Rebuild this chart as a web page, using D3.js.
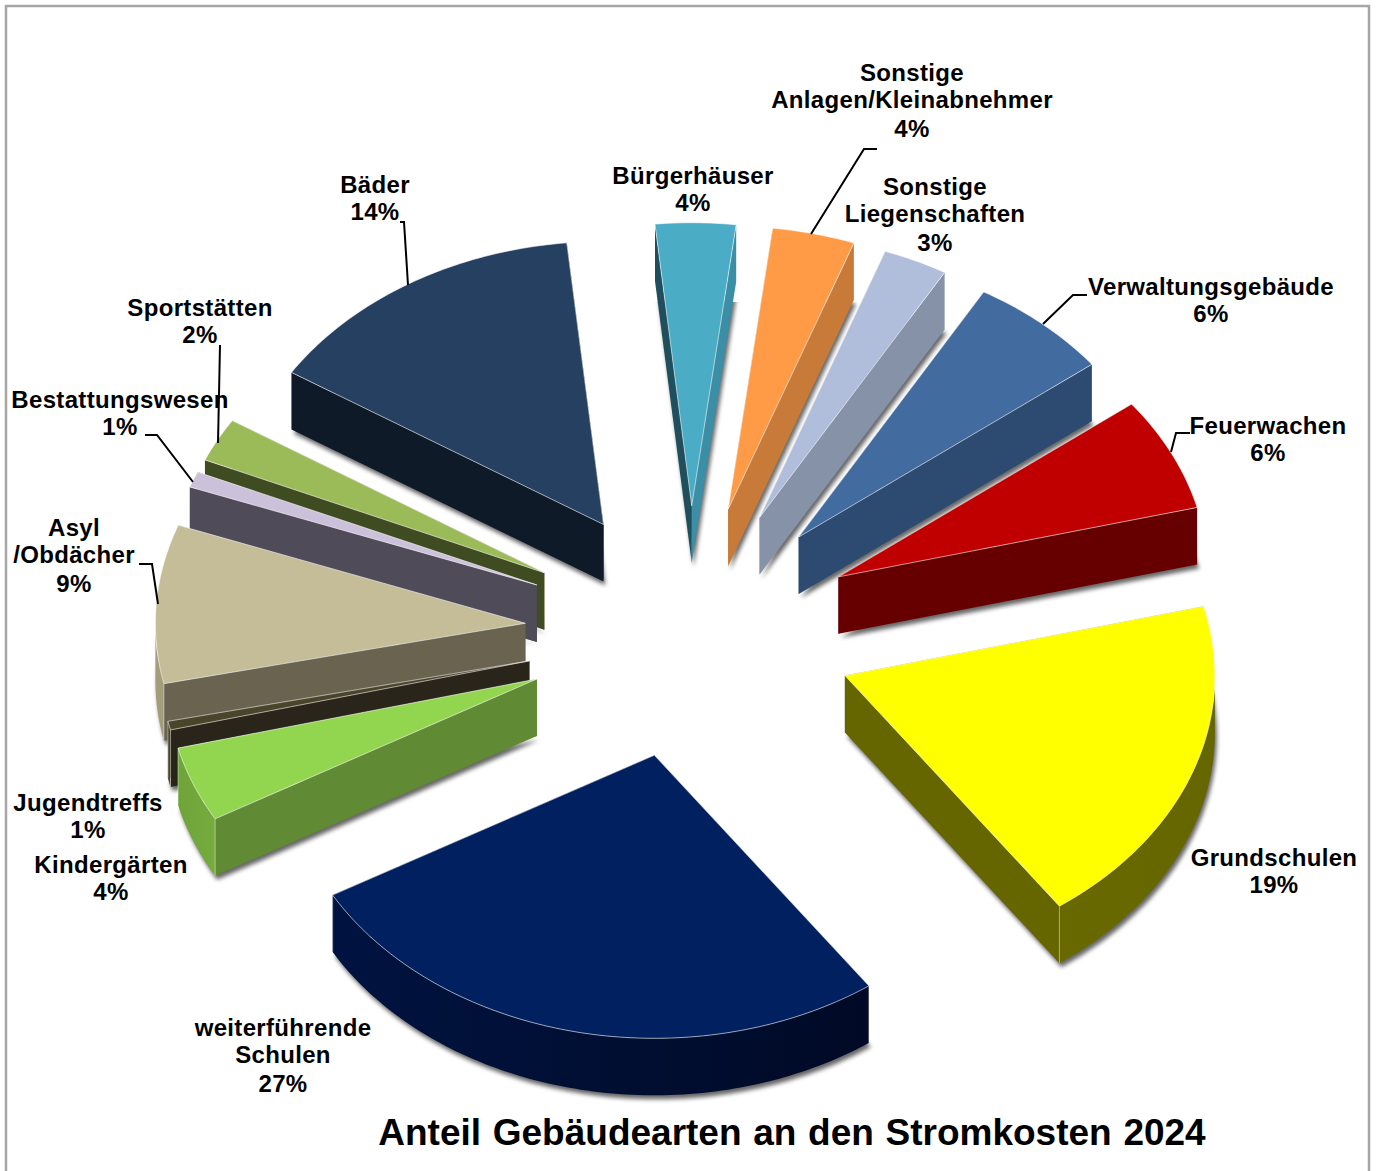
<!DOCTYPE html>
<html lang="de">
<head>
<meta charset="utf-8">
<style>
html,body{margin:0;padding:0;background:#fff;overflow:hidden}
svg{display:block}
text{font-family:"Liberation Sans",Arial,sans-serif;font-weight:700;fill:#000}
</style>
<script src="https://cdn.jsdelivr.net/npm/d3@7"></script>
</head>
<body>
<svg id="chart" width="1376" height="1171"></svg>
<script>
// ---- data (clockwise from the top) ----
const categories = [
  ["Bürgerhäuser"],
  ["Sonstige","Anlagen/Kleinabnehmer"],
  ["Sonstige","Liegenschaften"],
  ["Verwaltungsgebäude"],
  ["Feuerwachen"],
  ["Grundschulen"],
  ["weiterführende","Schulen"],
  ["Kindergärten"],
  ["Jugendtreffs"],
  ["Asyl","/Obdächer"],
  ["Bestattungswesen"],
  ["Sportstätten"],
  ["Bäder"]
];
const shares = [3.5,3.6,2.82,6.22,6.5,19.1,26.62,4.3,0.5,9.05,0.9,2.5,14.39];
const percentLabels = ["4%","4%","3%","6%","6%","19%","27%","4%","1%","9%","1%","2%","14%"];

// ---- palette ----
const topColors   = ["#4BACC6","#FF9A46","#B0BEDC","#426BA0","#C00000","#FFFF00","#002060","#92D650","#4A452A","#C4BD97","#CCC1DA","#9BBB59","#254061"];
const startWalls  = ["#1F4E5C","#C87B38","#8592A8","#2D4B70","#660000","#666600","#000F33","#608A33","#29251A","#696350","#4F4B58","#3F4C22","#0F1A28"];
const endWalls    = ["#3A8EA5","#C87B38","#8592A8","#2D4B70","#660000","#666600","#000F33","#608A33","#29251A","#696350","#4F4B58","#3F4C22","#0F1A28"];
const rimLeft     = ["#3A8EA5","#C87B38","#8592A8","#2D4B70","#660000","#696900","#001340","#6FA43A","#4A452A","#A39D7C","#4F4B58","#3F4C22","#0F1A28"];
const rimRight    = ["#3A8EA5","#C87B38","#8592A8","#2D4B70","#660000","#666600","#000A26","#76AB3E","#4A452A","#A39D7C","#4F4B58","#3F4C22","#0F1A28"];

// ---- layout (not data) ----
const cx = 690, cy = 632, tilt = 0.765, depth = 57, explode = 0.446, shadowTop = 302;
const radius = d3.scaleLinear().domain([0,1]).range([0,370]);
const rad = d => d*Math.PI/180;

const labelCenters = [[693,175],[912,72],[935,186],[1211,286],[1268,425],[1274,857],[283,1027],[111,864],[88,802],[74,527],[120,399],[200,307],[375,184]];
const lineOffsets2 = [0,27];
const lineOffsets3 = [0,27,56];
const leaders = {
  1:[[877,149],[864,149],[811,234]],
  3:[[1087,295],[1073,295],[1043,324]],
  4:[[1190,433],[1176,433],[1171,452]],
  9:[[139,564],[152,564],[158,604]],
  10:[[145,435],[157,435],[193,482]],
  11:[[220,345],[218,443]],
  12:[[400,222],[404,222],[408,285]]
};

const svg = d3.select("#chart");
const defs = svg.append("defs");
defs.append("filter").attr("id","soft").attr("x","-20%").attr("y","-20%").attr("width","140%").attr("height","140%")
  .append("feGaussianBlur").attr("stdDeviation",2);
defs.append("clipPath").attr("id","shadowClip").append("rect")
  .attr("x",0).attr("y",shadowTop).attr("width",1376).attr("height",1171-shadowTop);

// outer frame
svg.append("rect").attr("x",6).attr("y",6).attr("width",1363).attr("height",1175)
  .attr("fill","#fff").attr("stroke","#A6A6A6").attr("stroke-width",2.5);

const pie = d3.pie().value(d=>d).sort(null).startAngle(rad(-5.7)).endAngle(rad(354.3));
const arcs = pie(shares).map((a,i)=>{
  const mid = (a.startAngle+a.endAngle)/2;
  const e = radius(explode);
  return {...a, i, mid, ax: cx+e*Math.sin(mid), ay: cy-e*Math.cos(mid)*tilt};
});
const pt = (d,theta,z=0)=>[
  d.ax+radius(1)*Math.sin(theta),
  d.ay-radius(1)*Math.cos(theta)*tilt+z
];
const samples = (a,b)=>{
  const n = Math.max(2,Math.ceil((b-a)/rad(1)));
  return d3.range(n+1).map(j=>a+(b-a)*j/n);
};
const line = d3.line();

function sector(d,z){
  const pts = [[d.ax,d.ay+z],...samples(d.startAngle,d.endAngle).map(t=>pt(d,t,z))];
  return line(pts)+"Z";
}
function wall(d,theta){
  return line([[d.ax,d.ay],pt(d,theta),pt(d,theta,depth),[d.ax,d.ay+depth]])+"Z";
}

const groups = svg.append("g").selectAll("g")
  .data(arcs.slice().sort((p,q)=>p.ay-q.ay))
  .join("g");

groups.each(function(d){
  const g = d3.select(this);
  // drop shadow of the lower face
  g.append("g").attr("clip-path","url(#shadowClip)")
   .append("path").attr("d",sector(d,depth))
   .attr("transform","translate(2,4)")
   .attr("fill","#000").attr("fill-opacity",.6).attr("filter","url(#soft)");
  g.append("path").attr("d",wall(d,d.startAngle)).attr("fill",startWalls[d.i]);
  g.append("path").attr("d",wall(d,d.endAngle)).attr("fill",endWalls[d.i]);
  // outer rim, only where it faces the viewer
  const a = Math.max(d.startAngle,rad(90)), b = Math.min(d.endAngle,rad(270));
  if(b>a){
    const id = "rim"+d.i;
    const grad = defs.append("linearGradient").attr("id",id);
    grad.append("stop").attr("offset","0%").attr("stop-color",rimLeft[d.i]);
    grad.append("stop").attr("offset","100%").attr("stop-color",rimRight[d.i]);
    const ts = samples(a,b);
    const pts = [...ts.map(t=>pt(d,t)),...ts.slice().reverse().map(t=>pt(d,t,depth))];
    g.append("path").attr("d",line(pts)+"Z").attr("fill",`url(#${id})`);
    [a,b].forEach(t=>{
      if(t===d.startAngle||t===d.endAngle){
        g.append("path").attr("d",line([pt(d,t),pt(d,t,depth)]))
         .attr("stroke","#fff").attr("stroke-opacity",.45).attr("fill","none");
      }
    });
  }
  g.append("path").attr("d",sector(d,0)).attr("fill",topColors[d.i])
   .attr("stroke","#fff").attr("stroke-opacity",.65).attr("stroke-width",.9).attr("stroke-linejoin","round");
});

// leader lines
svg.append("g").selectAll("path").data(Object.values(leaders)).join("path")
  .attr("d",d=>line(d)).attr("fill","none").attr("stroke","#000").attr("stroke-width",2);

// labels
const labels = svg.append("g").selectAll("text").data(categories).join("text")
  .attr("text-anchor","middle").attr("font-size",24).attr("letter-spacing",0.33);
labels.each(function(lines,i){
  const t = d3.select(this), [x,y] = labelCenters[i];
  const rows = [...lines,percentLabels[i]];
  const offsets = rows.length===3 ? lineOffsets3 : lineOffsets2;
  rows.forEach((s,j)=>{
    t.append("tspan").attr("x",x).attr("y",y+offsets[j])
     .attr("dominant-baseline","central").text(s);
  });
});

// title
svg.append("text").attr("x",792).attr("y",1145).attr("text-anchor","middle")
  .attr("font-size",37).attr("word-spacing",1.4).text("Anteil Gebäudearten an den Stromkosten 2024");
</script>
</body>
</html>
